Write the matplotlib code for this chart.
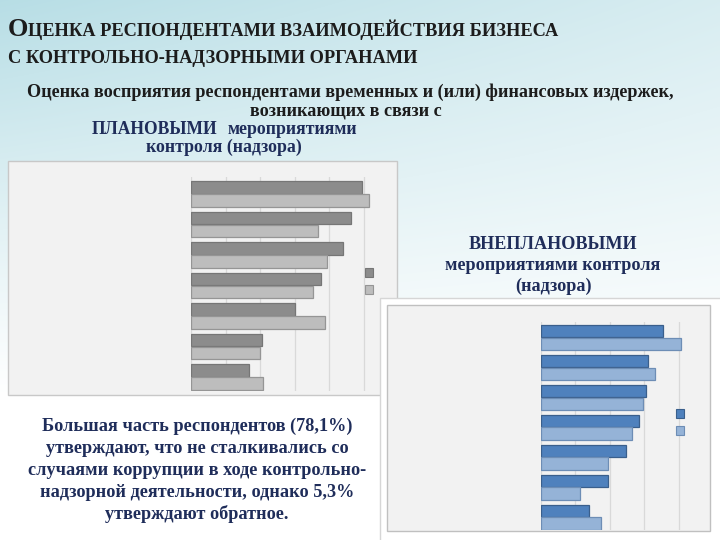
import numpy as np
import matplotlib
matplotlib.use('Agg')
import matplotlib.pyplot as plt
from matplotlib.patches import Rectangle, Patch

W, H = 720, 540

# данные диаграмм (подписи категорий в исходнике не видны)
categories = ['', '', '', '', '', '', '']
plan_series1 = [49.4, 46.3, 43.9, 37.5, 30.1, 20.6, 16.9]
plan_series2 = [51.4, 36.7, 39.4, 35.3, 38.6, 20.0, 20.7]
unplan_series1 = [35.4, 31.0, 30.4, 28.4, 24.6, 19.5, 13.9]
unplan_series2 = [40.5, 33.0, 29.6, 26.3, 19.5, 11.3, 17.4]
plan_ticks = [0, 10, 20, 30, 40, 50]
unplan_ticks = [0, 10, 20, 30, 40]

title_line1 = 'Оценка респондентами взаимодействия бизнеса'
title_line2 = 'с контрольно-надзорными органами'
subtitle1 = 'Оценка восприятия респондентами временных и (или) финансовых издержек,'
subtitle2 = 'возникающих в связи с'
plan_label = ['ПЛАНОВЫМИ', 'мероприятиями', 'контроля (надзора)']
unplan_label = ['ВНЕПЛАНОВЫМИ', 'мероприятиями контроля', '(надзора)']
note_lines = ['Большая часть респондентов (78,1%)',
              'утверждают, что не сталкивались со',
              'случаями коррупции в ходе контрольно-',
              'надзорной деятельности, однако 5,3%',
              'утверждают обратное.']

NAVY = '#1f2d5a'
DARK = '#1c1c1c'
SERIF = 'Liberation Serif'


def fx(x):
    return x / W


def fy(y):
    return 1 - y / H


fig = plt.figure(figsize=(7.2, 5.4), dpi=100)
renderer = fig.canvas.get_renderer()

# фон слайда: голубой градиент сверху, белый снизу
bg = fig.add_axes([0, 0, 1, 1], zorder=-5)
bg.set_xlim(0, W)
bg.set_ylim(H, 0)
bg.axis('off')
yy, xx = np.mgrid[0:H, 0:W]
t = np.clip(1 - yy / 400, 0, 1) ** 1.1 * (1 - 0.45 * xx / W)
top = np.array([0.72, 0.87, 0.90])
img = 1 - t[..., None] * (1 - top)
bg.imshow(img, extent=(0, W, H, 0), aspect='auto')

# подложки диаграмм
bg.add_patch(Rectangle((8, 161), 389, 234, fc='#f2f2f2', ec='#c8c8c8', lw=1))
bg.add_patch(Rectangle((380, 298), 345, 250, fc='white', ec='#d6d6d6', lw=1))
bg.add_patch(Rectangle((387, 305), 323, 226, fc='#f2f2f2', ec='#c0c0c0', lw=1))


def fit_text(x, y, s, width, size=13, ha='left', **kw):
    tx = fig.text(fx(x), fy(y), s, fontsize=size, ha=ha, va='baseline', **kw)
    w = tx.get_window_extent(renderer).width
    tx.set_fontsize(size * width / w)
    return tx


def small_caps(x, y, s, width, big=18, small=12.5, **kw):
    runs = []
    for ch in s:
        size = big if ch.isupper() else small
        if runs and runs[-1][1] == size:
            runs[-1][0] += ch.upper()
        else:
            runs.append([ch.upper(), size])

    def draw(k):
        texts = []
        cx = x
        for txt, size in runs:
            tx = fig.text(fx(cx), fy(y), txt, fontsize=size * k, va='baseline', **kw)
            cx += tx.get_window_extent(renderer).width
            texts.append(tx)
        return texts, cx - x

    texts, w = draw(1)
    for tx in texts:
        tx.remove()
    draw(width / w)


small_caps(8, 36, title_line1, 550, family=SERIF, weight='bold', color=DARK)
small_caps(8, 63, title_line2, 408, family=SERIF, weight='bold', color=DARK)

ts = fit_text(27, 97, subtitle1, 639, family=SERIF, weight='bold', color=DARK)
fig.text(fx(442), fy(115), subtitle2, fontsize=ts.get_fontsize(), ha='right', va='baseline',
         family=SERIF, weight='bold', color=DARK)

fit_text(92, 134, plan_label[0], 126, family=SERIF, weight='bold', color=NAVY)
tp = fit_text(228, 134, plan_label[1], 128, family=SERIF, weight='bold', color=NAVY)
fig.text(fx(224), fy(152), plan_label[2], fontsize=tp.get_fontsize(), ha='center', va='baseline',
         family=SERIF, weight='bold', color=NAVY)

tu = fit_text(553, 270, unplan_label[1], 212, ha='center', family=SERIF, weight='bold', color=NAVY)
for txt, yb in [(unplan_label[0], 249), (unplan_label[2], 291)]:
    fig.text(fx(553), fy(yb), txt, fontsize=tu.get_fontsize(), ha='center', va='baseline',
             family=SERIF, weight='bold', color=NAVY)

# подпись внизу слева
t0 = fit_text(197, 431, note_lines[0], 307, ha='center', family=SERIF, weight='bold', color=NAVY)
note_size = t0.get_fontsize()
for i, line in enumerate(note_lines[1:]):
    fig.text(fx(197), fy(453 + 22 * i), line, fontsize=note_size, ha='center', va='baseline',
             family=SERIF, weight='bold', color=NAVY)


def bar_chart(rect, xmax, ylim, s1, s2, ticks, c1, e1, c2, e2, leg_xy):
    ax = fig.add_axes(rect, zorder=1)
    ax.patch.set_alpha(0)
    y = np.arange(len(categories))
    ax.barh(y - 0.21, s1, height=0.41, color=c1, edgecolor=e1, lw=0.9, zorder=2)
    ax.barh(y + 0.21, s2, height=0.41, color=c2, edgecolor=e2, lw=0.9, zorder=2)
    ax.set_xlim(0, xmax)
    ax.set_ylim(*ylim)
    ax.set_xticks(ticks)
    ax.set_yticks(y)
    ax.set_yticklabels(categories)
    ax.grid(axis='x', color='#d9d9d9', lw=0.9)
    ax.set_axisbelow(True)
    ax.tick_params(length=0, labelbottom=False, labelleft=False)
    for sp in ax.spines.values():
        sp.set_visible(False)
    handles = [Patch(fc=c1, ec=e1, lw=0.8), Patch(fc=c2, ec=e2, lw=0.8)]
    ax.legend(handles, [' ', ' '], loc='upper left', bbox_to_anchor=(fx(leg_xy[0]), fy(leg_xy[1])),
              bbox_transform=fig.transFigure, frameon=False, borderpad=0, borderaxespad=0,
              handlelength=0.6, handleheight=0.6, labelspacing=0.25, handletextpad=0.2, fontsize=10)
    return ax


bar_chart([fx(191), fy(391), (372 - 191) / W, (391 - 177) / H], 52.3, (6.46, -0.56),
          plan_series1, plan_series2, plan_ticks,
          '#8c8c8c', '#767676', '#bdbdbd', '#959595', (365, 266))
bar_chart([fx(541), fy(530), (690 - 541) / W, (530 - 322) / H], 43.2, (6.43, -0.52),
          unplan_series1, unplan_series2, unplan_ticks,
          '#4f81bd', '#3a5f8c', '#95b3d7', '#6d8db5', (676, 407))

fig.savefig('out.png', dpi=100)
